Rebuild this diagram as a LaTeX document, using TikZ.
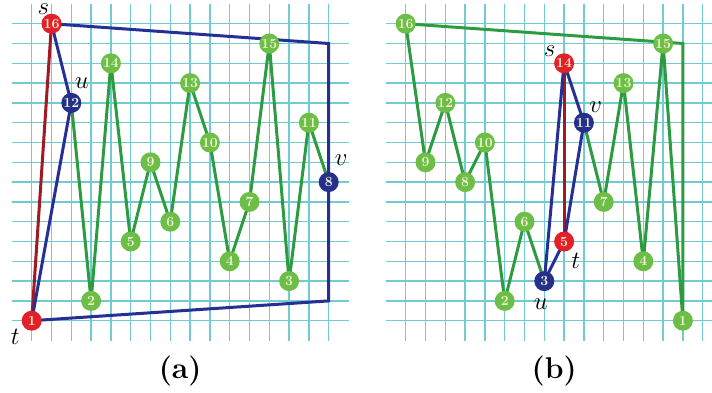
\documentclass[tikz,border=0pt]{standalone}
\definecolor{gridc}{RGB}{112,204,208}
\definecolor{gline}{RGB}{45,155,65}
\definecolor{gnode}{RGB}{108,190,70}
\definecolor{bline}{RGB}{38,48,148}
\definecolor{bnode}{RGB}{38,48,140}
\definecolor{rnode}{RGB}{226,32,40}
\definecolor{rline}{RGB}{160,25,35}
\definecolor{ntext}{RGB}{242,246,212}
\tikzset{
  vtx/.style={circle, minimum size=20pt, inner sep=0pt, text=ntext, font=\fontsize{14}{14}\selectfont\bfseries},
  gv/.style={vtx, fill=gnode},
  bv/.style={vtx, fill=bnode},
  rv/.style={vtx, fill=rnode},
  ge/.style={draw=gline, line width=3pt, line join=round},
  be/.style={draw=bline, line width=3pt},
  re/.style={draw=rline, line width=3pt},
  lab/.style={font=\fontsize{27}{30}\selectfont, inner sep=0pt},
  captxt/.style={font=\fontsize{30}{34}\selectfont\bfseries, inner sep=0pt},
  gridline/.style={draw=gridc, line width=1.5pt}
}
\begin{document}
\begin{tikzpicture}[x=19.8pt,y=19.8pt]
\useasboundingbox (-31.7pt,-71.3pt) rectangle (680.3pt,320.7pt);
\clip (-31.7pt,-71.3pt) rectangle (680.3pt,320.7pt);
% ---------- panel (a) grid and node positions ----------
\begin{scope}
\foreach \i in {0,...,15} {
  \draw[gridline] (\i,-1) -- (\i,16);
  \draw[gridline] (-1,\i) -- (16,\i);
}
\coordinate (acA) at (15,14);
\coordinate (acB) at (15,1);
\coordinate (a1) at (0,0);
\coordinate (a2) at (3,1);
\coordinate (a3) at (13,2);
\coordinate (a4) at (10,3);
\coordinate (a5) at (5,4);
\coordinate (a6) at (7,5);
\coordinate (a7) at (11,6);
\coordinate (a8) at (15,7);
\coordinate (a9) at (6,8);
\coordinate (a10) at (9,9);
\coordinate (a11) at (14,10);
\coordinate (a12) at (2,11);
\coordinate (a13) at (8,12);
\coordinate (a14) at (4,13);
\coordinate (a15) at (12,14);
\coordinate (a16) at (1,15);
\end{scope}
% ---------- panel (b) grid and node positions ----------
\begin{scope}[xshift=374pt]
\foreach \i in {0,...,15} {
  \draw[gridline] (\i,-1) -- (\i,16);
  \draw[gridline] (-1,\i) -- (16,\i);
}
\coordinate (bcA) at (14,14);
\coordinate (b1) at (14,0);
\coordinate (b2) at (5,1);
\coordinate (b3) at (7,2);
\coordinate (b4) at (12,3);
\coordinate (b5) at (8,4);
\coordinate (b6) at (6,5);
\coordinate (b7) at (10,6);
\coordinate (b8) at (3,7);
\coordinate (b9) at (1,8);
\coordinate (b10) at (4,9);
\coordinate (b11) at (9,10);
\coordinate (b12) at (2,11);
\coordinate (b13) at (11,12);
\coordinate (b14) at (8,13);
\coordinate (b15) at (13,14);
\coordinate (b16) at (0,15);
\coordinate (capbpos) at (7.5,-2.54);
\end{scope}
% ---------- edges (a) ----------
\draw[ge] (a12) -- (a2) -- (a14) -- (a5) -- (a9) -- (a6) -- (a13) -- (a10) -- (a4) -- (a7) -- (a15) -- (a3) -- (a11) -- (a8);
\draw[re] (a1) -- (a16);
\draw[be, line join=round] (a1) -- (a12) -- (a16);
\draw[be, line join=miter] (a16) -- (acA) -- (a8);
\draw[be, line join=miter] (a8) -- (acB) -- (a1);
% ---------- edges (b) ----------
\draw[ge] (b11) -- (b7) -- (b13) -- (b4) -- (b15) -- (b1);
\draw[ge, line join=miter] (b1) -- (bcA) -- (b16);
\draw[ge] (b16) -- (b9) -- (b12) -- (b8) -- (b10) -- (b2) -- (b6) -- (b3);
\draw[re] (b5) -- (b14);
\draw[be] (b3) -- (b14);
\draw[be, line join=round] (b3) -- (b5) -- (b11) -- (b14);
% ---------- vertices ----------
\node[rv] (na1) at (a1) {1};
\node[gv] (na2) at (a2) {2};
\node[gv] (na3) at (a3) {3};
\node[gv] (na4) at (a4) {4};
\node[gv] (na5) at (a5) {5};
\node[gv] (na6) at (a6) {6};
\node[gv] (na7) at (a7) {7};
\node[bv] (na8) at (a8) {8};
\node[gv] (na9) at (a9) {9};
\node[gv] (na10) at (a10) {10};
\node[gv] (na11) at (a11) {11};
\node[bv] (na12) at (a12) {12};
\node[gv] (na13) at (a13) {13};
\node[gv] (na14) at (a14) {14};
\node[gv] (na15) at (a15) {15};
\node[rv] (na16) at (a16) {16};
\node[gv] (nb1) at (b1) {1};
\node[gv] (nb2) at (b2) {2};
\node[bv] (nb3) at (b3) {3};
\node[gv] (nb4) at (b4) {4};
\node[rv] (nb5) at (b5) {5};
\node[gv] (nb6) at (b6) {6};
\node[gv] (nb7) at (b7) {7};
\node[gv] (nb8) at (b8) {8};
\node[gv] (nb9) at (b9) {9};
\node[gv] (nb10) at (b10) {10};
\node[bv] (nb11) at (b11) {11};
\node[gv] (nb12) at (b12) {12};
\node[gv] (nb13) at (b13) {13};
\node[rv] (nb14) at (b14) {14};
\node[gv] (nb15) at (b15) {15};
\node[gv] (nb16) at (b16) {16};
% ---------- labels ----------
\node[lab] (ls) at ([shift={(-8.2pt,14.3pt)}]a16) {$s$};
\node[lab] (lu) at ([shift={(10.4pt,19.5pt)}]a12) {$u$};
\node[lab] (lv) at ([shift={(12.6pt,21.5pt)}]a8) {$v$};
\node[lab] (lt) at ([shift={(-16.4pt,-16.3pt)}]a1) {$t$};
\node[lab] (rs) at ([shift={(-14.6pt,12.1pt)}]b14) {$s$};
\node[lab] (rvl) at ([shift={(11.9pt,15.6pt)}]b11) {$v$};
\node[lab] (rt) at ([shift={(11.7pt,-18.9pt)}]b5) {$t$};
\node[lab] (ru) at ([shift={(-3.5pt,-22.6pt)}]b3) {$u$};
\node[captxt] (capa) at (7.5,-2.54) {(a)};
\node[captxt] (capb) at (capbpos) {(b)};
\end{tikzpicture}
\end{document}
